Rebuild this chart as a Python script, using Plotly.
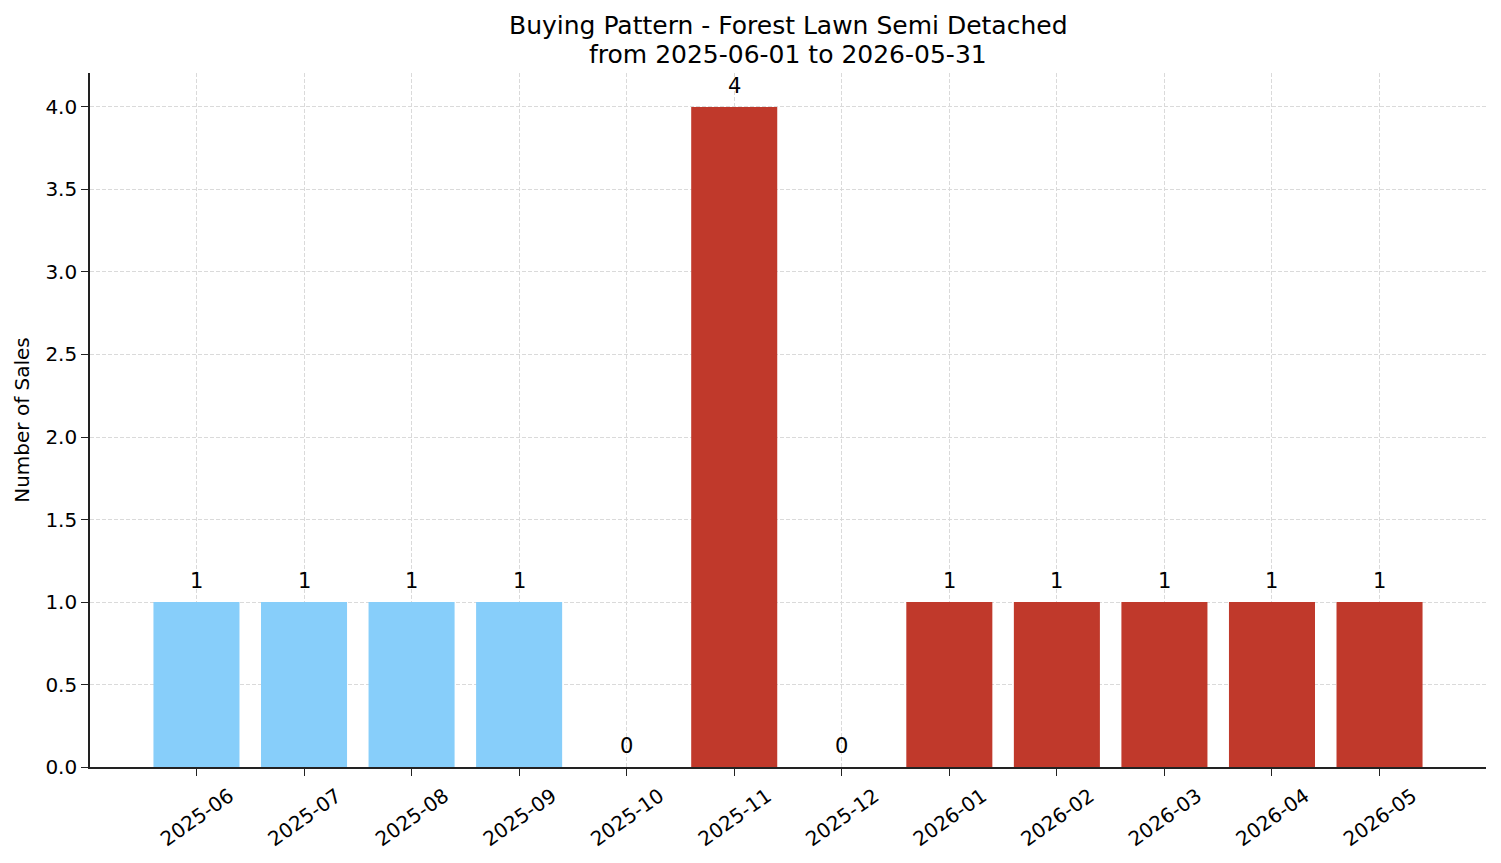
import plotly.graph_objects as go

months = ["2025-06", "2025-07", "2025-08", "2025-09", "2025-10", "2025-11",
          "2025-12", "2026-01", "2026-02", "2026-03", "2026-04", "2026-05"]
sales = [1, 1, 1, 1, 0, 4, 0, 1, 1, 1, 1, 1]
colors = ["#87CEFA"] * 4 + ["#C0392B"] * 8
title_lines = ["Buying Pattern - Forest Lawn Semi Detached", "from 2025-06-01 to 2026-05-31"]

FONT = "DejaVu Sans"
x_idx = list(range(len(months)))

fig = go.Figure()
fig.add_trace(go.Bar(x=x_idx, y=sales, width=0.8, marker=dict(color=colors, line=dict(width=0)),
                     showlegend=False, hoverinfo="skip"))

for i, v in zip(x_idx, sales):
    fig.add_annotation(x=i, y=v, text=str(v), showarrow=False, yanchor="bottom",
                       yshift=7, font=dict(family=FONT, size=21, color="#000"))

for line, shift in zip(title_lines, [48, 19]):
    fig.add_annotation(xref="paper", yref="paper", x=0.5, y=1, xanchor="center", yanchor="middle",
                       yshift=shift, showarrow=False, text=line,
                       font=dict(family=FONT, size=25, color="#000"))

fig.update_layout(
    width=1501, height=863,
    margin=dict(l=90, r=15, t=73, b=96),
    paper_bgcolor="white", plot_bgcolor="white",
    font=dict(family=FONT, color="#000"),
    bargap=0.2,
)
grid = dict(showgrid=True, gridcolor="#dadada", griddash="4px,2px", gridwidth=0.8)
fig.update_xaxes(
    range=[-0.99, 11.99], tickmode="array", tickvals=x_idx, ticktext=months,
    tickangle=-35, ticks="outside", ticklen=7, tickwidth=1.3, tickcolor="#222",
    tickfont=dict(family=FONT, size=20, color="#000"),
    ticklabelshift=33, ticklabelstandoff=1,
    showline=True, linecolor="#222", linewidth=1.6,
    layer="above traces", zeroline=False, **grid,
)
fig.update_yaxes(
    range=[0, 4.206], tickmode="array", tickvals=[0, 0.5, 1, 1.5, 2, 2.5, 3, 3.5, 4],
    ticktext=["0.0", "0.5", "1.0", "1.5", "2.0", "2.5", "3.0", "3.5", "4.0"],
    ticks="outside", ticklen=7, tickwidth=1.3, tickcolor="#222",
    tickfont=dict(family=FONT, size=20, color="#000"),
    showline=True, linecolor="#222", linewidth=1.6,
    layer="above traces", zeroline=False, **grid,
    title=dict(text="Number of Sales", font=dict(family=FONT, size=20, color="#000"), standoff=10),
)

fig.write_html("out.html")
